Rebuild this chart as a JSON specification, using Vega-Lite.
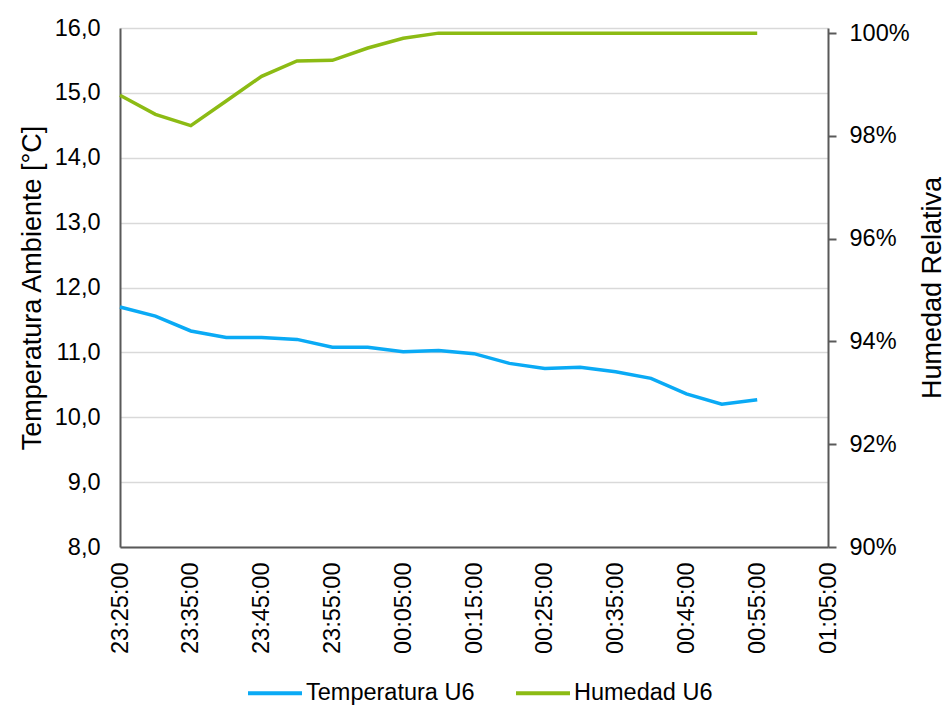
{
  "$schema": "https://vega.github.io/schema/vega-lite/v6.json",
  "autosize": {"type": "none"},
  "width": 708,
  "height": 519,
  "padding": {"left": 120, "top": 28, "right": 119, "bottom": 163},
  "background": "white",
  "config": {
    "font": "Liberation Sans",
    "view": {"stroke": null},
    "axis": {
      "labelFont": "Liberation Sans",
      "titleFont": "Liberation Sans",
      "labelFontSize": 23.5,
      "titleFontSize": 27,
      "titleFontWeight": "normal",
      "labelColor": "#000000",
      "titleColor": "#000000",
      "domainColor": "#595959",
      "domainWidth": 2,
      "tickColor": "#595959",
      "tickWidth": 2,
      "gridColor": "#D9D9D9",
      "gridWidth": 1.5
    },
    "legend": {
      "labelFont": "Liberation Sans",
      "labelFontSize": 23.5,
      "labelColor": "#000000",
      "labelLimit": 400
    }
  },
  "data": {
    "values": [
      {"hora": "2023-01-01T23:25:00", "temperatura": 11.70, "humedad": 98.79},
      {"hora": "2023-01-01T23:30:00", "temperatura": 11.56, "humedad": 98.42},
      {"hora": "2023-01-01T23:35:00", "temperatura": 11.33, "humedad": 98.20},
      {"hora": "2023-01-01T23:40:00", "temperatura": 11.23, "humedad": 98.68},
      {"hora": "2023-01-01T23:45:00", "temperatura": 11.23, "humedad": 99.16},
      {"hora": "2023-01-01T23:50:00", "temperatura": 11.20, "humedad": 99.46},
      {"hora": "2023-01-01T23:55:00", "temperatura": 11.08, "humedad": 99.47},
      {"hora": "2023-01-02T00:00:00", "temperatura": 11.08, "humedad": 99.71},
      {"hora": "2023-01-02T00:05:00", "temperatura": 11.01, "humedad": 99.90},
      {"hora": "2023-01-02T00:10:00", "temperatura": 11.03, "humedad": 100.0},
      {"hora": "2023-01-02T00:15:00", "temperatura": 10.98, "humedad": 100.0},
      {"hora": "2023-01-02T00:20:00", "temperatura": 10.83, "humedad": 100.0},
      {"hora": "2023-01-02T00:25:00", "temperatura": 10.75, "humedad": 100.0},
      {"hora": "2023-01-02T00:30:00", "temperatura": 10.77, "humedad": 100.0},
      {"hora": "2023-01-02T00:35:00", "temperatura": 10.70, "humedad": 100.0},
      {"hora": "2023-01-02T00:40:00", "temperatura": 10.60, "humedad": 100.0},
      {"hora": "2023-01-02T00:45:00", "temperatura": 10.36, "humedad": 100.0},
      {"hora": "2023-01-02T00:50:00", "temperatura": 10.20, "humedad": 100.0},
      {"hora": "2023-01-02T00:55:00", "temperatura": 10.27, "humedad": 100.0}
    ]
  },
  "encoding": {
    "x": {
      "field": "hora",
      "type": "temporal",
      "title": null,
      "scale": {
        "domain": [
          {"year": 2023, "month": 1, "date": 1, "hours": 23, "minutes": 25},
          {"year": 2023, "month": 1, "date": 2, "hours": 1, "minutes": 5}
        ]
      },
      "axis": {
        "values": [
          {"year": 2023, "month": 1, "date": 1, "hours": 23, "minutes": 25},
          {"year": 2023, "month": 1, "date": 1, "hours": 23, "minutes": 35},
          {"year": 2023, "month": 1, "date": 1, "hours": 23, "minutes": 45},
          {"year": 2023, "month": 1, "date": 1, "hours": 23, "minutes": 55},
          {"year": 2023, "month": 1, "date": 2, "hours": 0, "minutes": 5},
          {"year": 2023, "month": 1, "date": 2, "hours": 0, "minutes": 15},
          {"year": 2023, "month": 1, "date": 2, "hours": 0, "minutes": 25},
          {"year": 2023, "month": 1, "date": 2, "hours": 0, "minutes": 35},
          {"year": 2023, "month": 1, "date": 2, "hours": 0, "minutes": 45},
          {"year": 2023, "month": 1, "date": 2, "hours": 0, "minutes": 55},
          {"year": 2023, "month": 1, "date": 2, "hours": 1, "minutes": 5}
        ],
        "format": "%H:%M:%S",
        "labelAngle": -90,
        "labelAlign": "right",
        "labelBaseline": "middle",
        "labelPadding": 15,
        "ticks": false,
        "grid": false,
        "labelFlush": false,
        "labelOverlap": false
      }
    }
  },
  "layer": [
    {
      "mark": {"type": "line", "strokeWidth": 3.5},
      "encoding": {
        "y": {
          "field": "temperatura",
          "type": "quantitative",
          "title": "Temperatura Ambiente [°C]",
          "scale": {"domain": [8, 16], "nice": false, "zero": false},
          "axis": {
            "values": [8, 9, 10, 11, 12, 13, 14, 15, 16],
            "labelExpr": "replace(format(datum.value, '.1f'), '.', ',')",
            "ticks": false,
            "labelPadding": 20,
            "titlePadding": 8,
            "grid": true
          }
        },
        "color": {
          "datum": "Temperatura U6",
          "type": "nominal",
          "scale": {
            "domain": ["Temperatura U6", "Humedad U6"],
            "range": ["#0AAAF5", "#8CBB14"]
          },
          "legend": {
            "title": null,
            "orient": "none",
            "direction": "horizontal",
            "legendX": 126,
            "legendY": 636,
            "symbolType": "stroke",
            "symbolSize": 2916,
            "symbolStrokeWidth": 4,
            "labelOffset": 2,
            "columnPadding": 33
          }
        }
      }
    },
    {
      "mark": {"type": "line", "strokeWidth": 3.5},
      "encoding": {
        "y": {
          "field": "humedad",
          "type": "quantitative",
          "title": "Humedad Relativa",
          "scale": {"domain": [90, 100.1], "nice": false, "zero": false},
          "axis": {
            "orient": "right",
            "values": [90, 92, 94, 96, 98, 100],
            "labelExpr": "datum.value + '%'",
            "tickSize": 8,
            "labelPadding": 13,
            "titleAngle": -90,
            "titlePadding": 37,
            "grid": false
          }
        },
        "color": {"datum": "Humedad U6", "type": "nominal"}
      }
    }
  ],
  "resolve": {"scale": {"y": "independent"}}
}
